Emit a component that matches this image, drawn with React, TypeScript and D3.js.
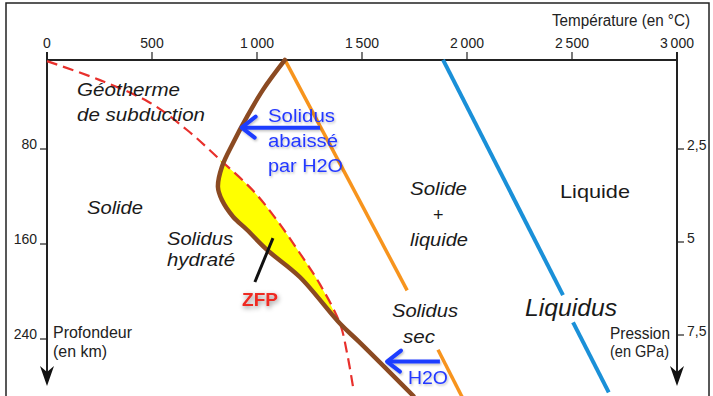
import React from "react";
import * as d3 from "d3";

// Température (°C) / profondeur (km)
const tempTicks = [0, 500, 1000, 1500, 2000, 2500, 3000];
const depthTicks = [80, 160, 240];
const pressureTicks = [2.5, 5, 7.5];

// solidus sec (orange), broken behind the "Solidus sec" label
const solidusSecA: [number, number][] = [[1133, 5], [1715, 199]];
const solidusSecB: [number, number][] = [[1862, 249], [1980, 290]];

// liquidus (blue), broken behind the "Liquidus" label
const liquidusA: [number, number][] = [[1886, 5], [2457, 203]];
const liquidusB: [number, number][] = [[2505, 226], [2675, 285]];

// solidus hydraté (brown)
const solidusHydrate: [number, number][] = [
  [1133, 5], [1029, 30], [952, 53], [886, 75], [833, 95], [814, 112],
  [833, 123], [886, 137], [952, 148], [1048, 165], [1205, 188],
  [1395, 227], [1490, 243], [1745, 288],
];

// géotherme de subduction (red dashed)
const geotherme: [number, number][] = [
  [0, 6], [252, 22], [490, 41], [667, 64], [824, 89], [981, 115],
  [1095, 140], [1205, 168], [1300, 194], [1395, 227], [1429, 252], [1457, 280],
];

// arrows + pointer (temp, depth)
const arrowH2O1: [number, number][] = [[1300, 62], [927, 62]];
const arrowH2O2: [number, number][] = [[1871, 259], [1619, 259]];
const zfpPointer: [number, number][] = [[1076, 155], [990, 192]];

const fr = d3.formatLocale({ decimal: ",", thousands: "\u2009", grouping: [3], currency: ["", " €"] });
const fmtT = fr.format(",d");
const fmtP = fr.format("~g");

const narrow = "'Liberation Sans Narrow', 'Liberation Sans', Arial, sans-serif";
const sans = "'Liberation Sans', Arial, Helvetica, sans-serif";

export default function App() {
  const W = 713, H = 396;
  const x = d3.scaleLinear().domain([0, 3000]).range([47, 677]);
  const y = d3.scaleLinear().domain([0, 240]).range([54, 339]);
  const yp = d3.scaleLinear().domain([0, 7.5]).range([56, 335]);
  const axisTop = 60;
  const axisBottom = 386;

  const straight = d3.line<[number, number]>().x(d => x(d[0])).y(d => y(d[1]));
  const smooth = d3.line<[number, number]>().x(d => x(d[0])).y(d => y(d[1])).curve(d3.curveCatmullRom.alpha(0.5));

  // yellow zone de fusion partielle: brown part then red back up
  const brownPart = solidusHydrate.slice(4, 12);
  const redPart = geotherme.slice(4, 10).reverse();
  const zfpPath = (smooth(brownPart) || "") + (smooth(redPart) || "").replace(/^M/, "L") + "Z";

  const arrowHead = (pts: [number, number][]) => {
    const [tx, ty] = [x(pts[1][0]), y(pts[1][1])];
    return `M${tx + 14},${ty - 11}L${tx},${ty}L${tx + 13},${ty + 10}`;
  };

  const label = (t: string, px: number, py: number, w: number, size: number, extra: any = {}) => (
    <text x={px} y={py} fontSize={size} textLength={w} lengthAdjust="spacingAndGlyphs" {...extra}>{t}</text>
  );

  return (
    <svg width={W} height={H} style={{ position: "absolute", left: 0, top: 0, background: "#fff" }}>
      <defs>
        <filter id="soft" x="-20%" y="-20%" width="140%" height="160%">
          <feDropShadow dx="1" dy="1.5" stdDeviation="1.2" floodColor="#000" floodOpacity="0.25" />
        </filter>
        <filter id="glow" x="-30%" y="-30%" width="160%" height="180%">
          <feDropShadow dx="1" dy="2" stdDeviation="2.5" floodColor="#000" floodOpacity="0.45" />
        </filter>
      </defs>

      <rect x={6} y={3} width={703} height={400} fill="none" stroke="#222" strokeWidth={1.5} />

      {/* axes */}
      <g stroke="#222" strokeWidth={2} fill="none">
        <line x1={x(0)} x2={x(3000)} y1={axisTop} y2={axisTop} />
        <line x1={x(0)} x2={x(0)} y1={axisTop - 8} y2={axisBottom - 12} />
        <line x1={x(3000)} x2={x(3000)} y1={axisTop - 8} y2={axisBottom - 12} />
      </g>
      <g fill="#111">
        {[x(0), x(3000)].map((ax, i) => (
          <path key={i} d={`M${ax - 7},${axisBottom - 20}L${ax},${axisBottom - 14}L${ax + 7},${axisBottom - 20}L${ax},${axisBottom}Z`} />
        ))}
      </g>
      <g fontFamily={narrow} fontSize={14} fill="#222">
        {tempTicks.map(t => (
          <g key={t}>
            <line x1={x(t)} x2={x(t)} y1={axisTop - 8} y2={axisTop} stroke="#222" strokeWidth={1.2} />
            <text x={x(t)} y={48} textAnchor="middle">{fmtT(t)}</text>
          </g>
        ))}
        {depthTicks.map(d => (
          <g key={d}>
            <line x1={x(0) - 7} x2={x(0)} y1={y(d)} y2={y(d)} stroke="#222" strokeWidth={1.2} />
            <text x={x(0) - 10} y={y(d)} textAnchor="end">{d}</text>
          </g>
        ))}
        {pressureTicks.map(p => (
          <g key={p}>
            <line x1={x(3000)} x2={x(3000) + 7} y1={yp(p)} y2={yp(p)} stroke="#222" strokeWidth={1.2} />
            <text x={x(3000) + 10} y={yp(p) + 1}>{fmtP(p)}</text>
          </g>
        ))}
      </g>
      <g fontFamily={narrow} fill="#222">
        {label("Température (en °C)", 552, 26, 138, 16)}
        {label("Profondeur", 53, 338, 79, 17)}
        {label("(en km)", 53, 357, 54, 17)}
        {label("Pression", 610, 339, 60, 17)}
        {label("(en GPa)", 610, 357, 59, 17)}
      </g>

      {/* zone de fusion partielle */}
      <path d={zfpPath} fill="#ffff00" stroke="none" />

      {/* liquidus */}
      <g stroke="#1a90d8" strokeWidth={4} fill="none">
        <path d={straight(liquidusA) || ""} />
        <path d={straight(liquidusB) || ""} />
      </g>
      {/* solidus sec */}
      <g stroke="#f7941d" strokeWidth={3.5} fill="none">
        <path d={straight(solidusSecA) || ""} />
        <path d={straight(solidusSecB) || ""} />
      </g>
      {/* géotherme */}
      <path d={smooth(geotherme) || ""} fill="none" stroke="#e8302c" strokeWidth={2.2} strokeDasharray="11 6" />
      {/* solidus hydraté */}
      <path d={smooth(solidusHydrate) || ""} fill="none" stroke="#8b4a22" strokeWidth={4.5} strokeLinecap="round" />

      {/* ZFP pointer */}
      <path d={straight(zfpPointer) || ""} stroke="#111" strokeWidth={3} />

      {/* H2O arrows */}
      <g stroke="#1f3cff" strokeWidth={4} fill="none" filter="url(#soft)">
        <path d={straight(arrowH2O1) || ""} />
        <path d={arrowHead(arrowH2O1)} strokeLinecap="round" strokeLinejoin="round" />
        <path d={straight(arrowH2O2) || ""} />
        <path d={arrowHead(arrowH2O2)} strokeLinecap="round" strokeLinejoin="round" />
      </g>

      {/* labels */}
      <g fontFamily={sans} fontStyle="italic" fill="#1a1a1a">
        {label("Géotherme", 77, 96, 103, 18)}
        {label("de subduction", 77, 121, 128, 18)}
        {label("Solide", 87, 214, 56, 18)}
        {label("Solidus", 167, 245, 66, 18)}
        {label("hydraté", 167, 266, 68, 18)}
        {label("Solide", 410, 195, 57, 18)}
        <text x={438} y={221} fontSize={18} textAnchor="middle">+</text>
        {label("liquide", 410, 246, 58, 18)}
        {label("Solidus", 392, 317, 66, 18)}
        {label("sec", 403, 343, 32, 18)}
        {label("Liquidus", 525, 316, 92, 23)}
      </g>
      <g fontFamily={sans} fill="#1a1a1a">
        {label("Liquide", 560, 198, 70, 19)}
      </g>
      <g fontFamily={sans} fill="#2438ff" filter="url(#soft)">
        {label("Solidus", 268, 122, 67, 18)}
        {label("abaissé", 268, 147, 70, 18)}
        {label("par H2O", 268, 172, 75, 18)}
        {label("H2O", 408, 384, 40, 18)}
      </g>
      <g fontFamily={sans} fontWeight="bold" fill="#ee2a24" filter="url(#glow)">
        {label("ZFP", 242, 306, 36, 19)}
      </g>
    </svg>
  );
}
